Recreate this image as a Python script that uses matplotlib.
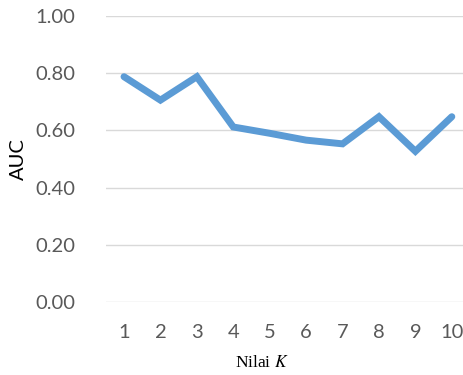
import matplotlib
matplotlib.use("Agg")
import matplotlib.pyplot as plt

# AUC for each value of K
k_values = [1, 2, 3, 4, 5, 6, 7, 8, 9, 10]
auc = [0.788, 0.706, 0.788, 0.612, 0.590, 0.566, 0.553, 0.648, 0.527, 0.648]
y_ticks = [0.0, 0.2, 0.4, 0.6, 0.8, 1.0]

plt.rcParams['font.family'] = ['Lato', 'DejaVu Sans']
plt.rcParams['mathtext.fontset'] = 'stix'

text_col = '#595959'
fig = plt.figure(figsize=(4.64, 3.75), dpi=100)
ax = fig.add_axes([0.228, 0.195, 0.785, 0.762])

x = list(range(len(k_values)))
ax.plot(x, auc, color='#5B9BD5', linewidth=5.0, solid_joinstyle='miter',
        solid_capstyle='round', zorder=3)

ax.set_xlim(-0.5, len(k_values) - 0.5)
ax.set_ylim(0, 1.0)
ax.set_yticks(y_ticks)
ax.set_yticklabels(['%.2f' % v for v in y_ticks])
ax.set_xticks(x)
ax.set_xticklabels([str(k) for k in k_values])
ax.grid(axis='y', color='#D9D9D9', linewidth=1.0, zorder=0)
ax.tick_params(length=0, labelsize=14.5, labelcolor=text_col)
ax.tick_params(axis='y', pad=22)
ax.tick_params(axis='x', pad=16)
for s in ax.spines.values():
    s.set_visible(False)

ax.set_ylabel('AUC', fontsize=14.5, color='black', labelpad=6)
fig.text(0.565, 0.032, 'Nilai $K$', family='Liberation Serif', fontsize=12.5,
         ha='center', va='center')

fig.savefig('out.png', dpi=100, facecolor='white')
